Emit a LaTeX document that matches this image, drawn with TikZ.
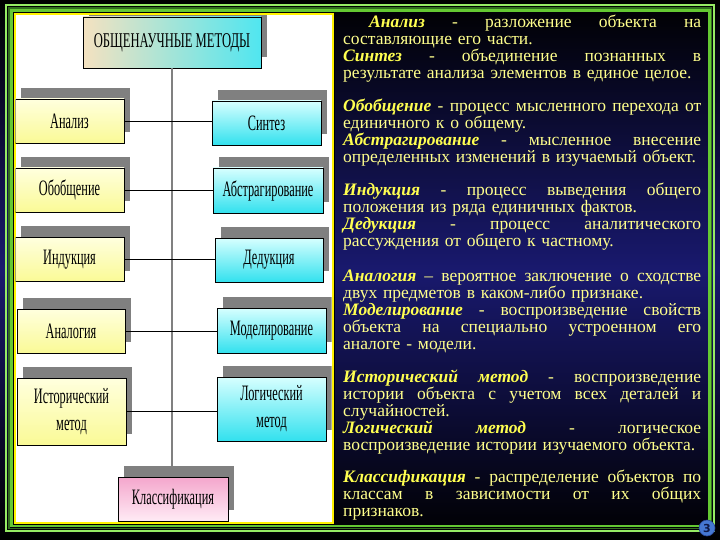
\documentclass[tikz,border=0pt]{standalone}
\usepackage{fontspec}
\setmainfont{Liberation Serif}
\newfontfamily\condfont[FakeStretch=0.56]{Liberation Serif}
\newfontfamily\titlefont[FakeStretch=0.6]{Liberation Serif}
\newfontfamily\badgefont{DejaVu Sans}
\usetikzlibrary{shadows}
\definecolor{bgmid}{RGB}{25,25,110}
\definecolor{frlight}{RGB}{150,235,100}
\definecolor{frdark}{RGB}{50,110,30}
\definecolor{frgreen}{RGB}{100,200,50}
\definecolor{shadowgray}{RGB}{128,128,128}
\definecolor{ylTop}{RGB}{255,255,222}
\definecolor{ylBot}{RGB}{250,250,150}
\definecolor{cyTop}{RGB}{215,255,255}
\definecolor{cyBot}{RGB}{50,225,238}
\definecolor{tiLeft}{RGB}{245,226,192}
\definecolor{tiRight}{RGB}{80,230,240}
\definecolor{pkTop}{RGB}{244,166,204}
\definecolor{pkBot}{RGB}{255,235,245}
\definecolor{txtyellow}{RGB}{255,255,140}
\definecolor{hwyellow}{RGB}{255,255,80}
\definecolor{badgeblue}{RGB}{70,120,210}
\newcommand{\HW}[1]{{\color{hwyellow}\bfseries\itshape #1}}
\newcommand{\JLine}[1]{\makebox[358pt][s]{\spaceskip=0pt\xspaceskip=0pt #1}}
\begin{document}
\begin{tikzpicture}[x=1pt,y=-1pt,
  box/.style={draw=black, line width=0.8pt, inner sep=0pt, align=center,
    font=\condfont\fontsize{22}{27}\selectfont,
    general shadow={fill=shadowgray, shadow xshift=6pt, shadow yshift=11pt}},
  lbox/.style={box, top color=ylTop, bottom color=ylBot},
  rbox/.style={box, top color=cyTop, bottom color=cyBot},
  deftext/.style={anchor=base west, inner sep=0pt, text=txtyellow, align=left,
    text width=358pt, font=\fontsize{17.5}{17}\selectfont},
  hline/.style={draw=black, line width=0.9pt},
  vline/.style={draw=gray, line width=1.2pt}
]
\useasboundingbox (0,0) rectangle (720,540);
% background
\shade[top color=black, bottom color=black, middle color=bgmid] (0,0) rectangle (720,540);
% frame
\draw[frlight, line width=2.5pt] (6,5) rectangle (714,531);
\draw[frdark, line width=1.5pt] (9,8) rectangle (711.5,528.5);
\draw[frgreen, line width=2.5pt] (11.5,10.5) rectangle (709.5,526);
% panel
\draw[black, line width=1pt] (13,13) rectangle (334,524);
\draw[fill=white, draw=yellow, line width=2pt] (14.5,14.5) rectangle (332.5,522.5);
\begin{scope}
\clip (15.5,15.5) rectangle (331.5,521.5);
\node[box, left color=tiLeft, right color=tiRight, minimum width=178pt, minimum height=51pt,
  font=\titlefont\fontsize{21}{24}\selectfont] (title) at (172,42.5) {ОБЩЕНАУЧНЫЕ МЕТОДЫ};
\node[lbox, minimum width=109pt, minimum height=44pt] (an) at (69.5,121) {Анализ};
\node[lbox, minimum width=109pt, minimum height=44pt] (ob) at (69.5,190) {Обобщение};
\node[lbox, minimum width=109pt, minimum height=44pt] (in) at (69.5,259.5) {Индукция};
\node[lbox, minimum width=108pt, minimum height=44pt] (ag) at (71,331) {Аналогия};
\node[lbox, minimum width=109pt, minimum height=67pt] (hi) at (71.5,411.5) {Исторический\\метод};
\node[rbox, minimum width=109pt, minimum height=44pt] (si) at (266.5,123) {Синтез};
\node[rbox, minimum width=110pt, minimum height=45pt] (ab) at (268,190.5) {Абстрагирование};
\node[rbox, minimum width=108pt, minimum height=44pt] (de) at (269,260) {Дедукция};
\node[rbox, minimum width=109pt, minimum height=45pt] (mo) at (271.5,330.5) {Моделирование};
\node[rbox, minimum width=109pt, minimum height=64pt] (lo) at (271.5,409) {Логический\\метод};
\node[box, top color=pkTop, bottom color=pkBot, minimum width=110pt, minimum height=44pt] (kl) at (173,499) {Классификация};
\end{scope}
% connectors
\draw[vline] (title.south) -- (title.south |- kl.north);
\draw[hline] (an.east) -- (an.east -| si.west);
\draw[hline] (ob.east) -- (ob.east -| ab.west);
\draw[hline] (in.east) -- (in.east -| de.west);
\draw[hline] (ag.east) -- (ag.east -| mo.west);
\draw[hline] (hi.east) -- (hi.east -| lo.west);
% text
\node[deftext] (g1) at (343,28) {\hspace*{26pt}\makebox[332pt][s]{\spaceskip=0pt\xspaceskip=0pt \HW{Анализ} - разложение объекта на}\\
составляющие его части.\\
\JLine{\HW{Синтез} - объединение познанных в}\\
результате анализа элементов в единое целое.};
\node[deftext] (g2) at (343,112) {\JLine{\HW{Обобщение} - процесс мысленного перехода от}\\
единичного к о общему.\\
\JLine{\HW{Абстрагирование} - мысленное внесение}\\
определенных изменений в изучаемый объект.};
\node[deftext] (g3) at (343,196) {\JLine{\HW{Индукция} - процесс выведения общего}\\
положения из ряда единичных фактов.\\
\JLine{\HW{Дедукция} - процесс аналитического}\\
рассуждения от общего к частному.};
\node[deftext] (g4) at (343,281) {\JLine{\HW{Аналогия} – вероятное заключение о сходстве}\\
двух предметов в каком-либо признаке.\\
\JLine{\HW{Моделирование} - воспроизведение свойств}\\
\JLine{объекта на специально устроенном его}\\
аналоге - модели.};
\node[deftext] (g5) at (343,382) {\JLine{\HW{Исторический} \HW{метод} - воспроизведение}\\
\JLine{истории объекта с учетом всех деталей и}\\
случайностей.\\
\JLine{\HW{Логический} \HW{метод} - логическое}\\
воспроизведение истории изучаемого объекта.};
\node[deftext] (g6) at (343,482) {\JLine{\HW{Классификация} - распределение объектов по}\\
\JLine{классам в зависимости от их общих}\\
признаков.};
% badge
\node[circle, fill=badgeblue, draw={rgb,255:red,40;green,70;blue,150}, line width=0.6pt,
  minimum size=16pt, inner sep=0pt, font=\badgefont\bfseries\fontsize{11}{11}\selectfont,
  text={rgb,255:red,15;green,25;blue,70}] (badge) at (707,528) {3};
\end{tikzpicture}
\end{document}
